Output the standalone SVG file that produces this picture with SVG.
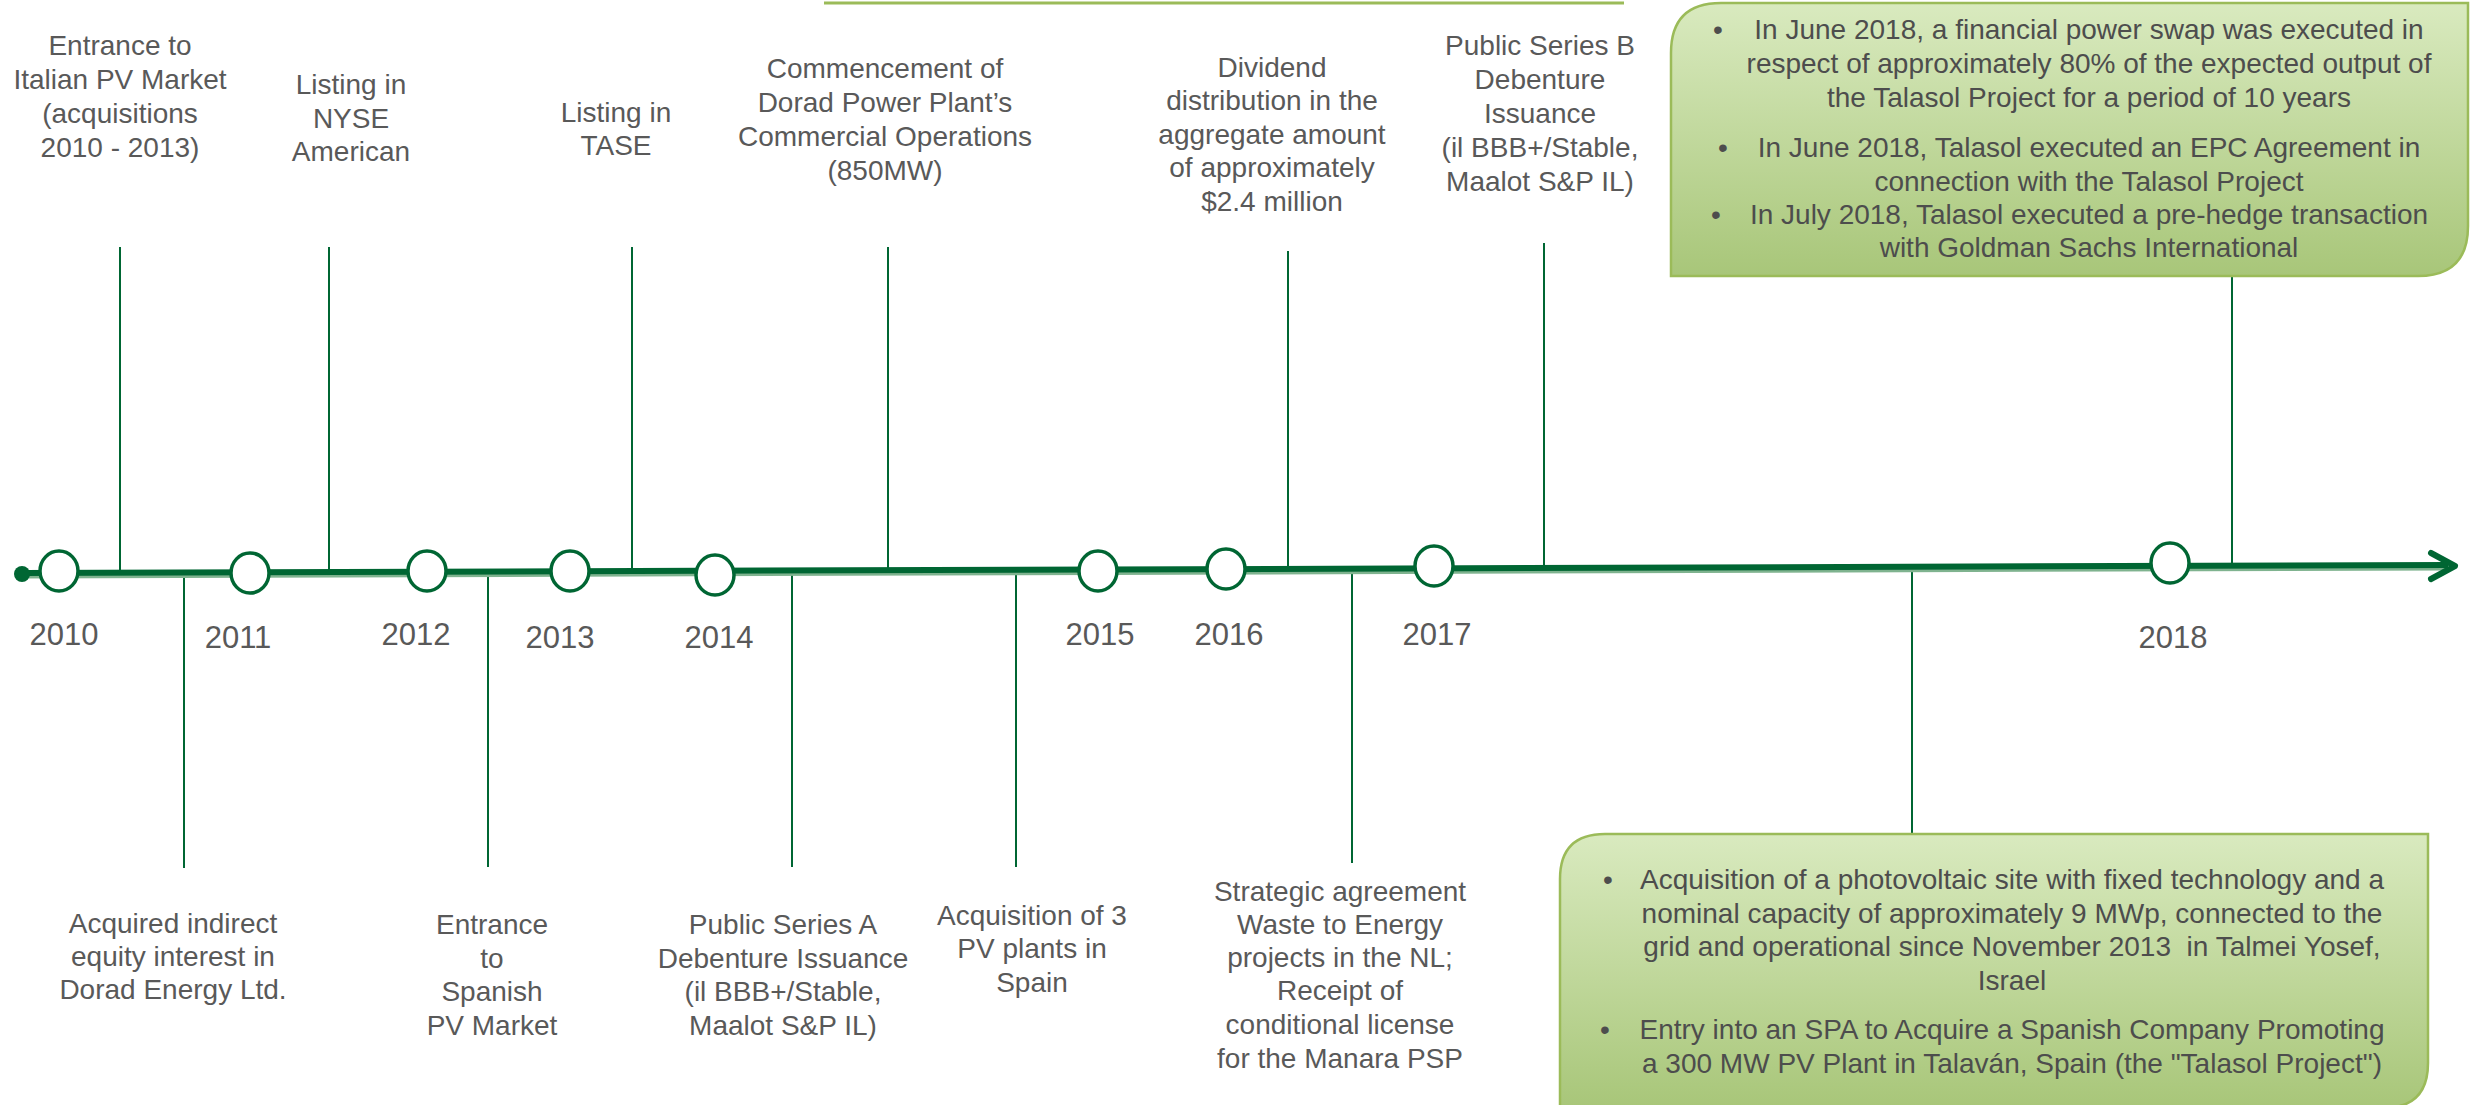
<svg xmlns="http://www.w3.org/2000/svg" width="2470" height="1105" viewBox="0 0 2470 1105">
<defs>
<linearGradient id="boxGrad" x1="0" y1="0" x2="0" y2="1">
<stop offset="0" stop-color="#d9eabf"/>
<stop offset="1" stop-color="#a8c679"/>
</linearGradient>
<style>
text{font-family:"Liberation Sans",Arial,sans-serif;fill:#595959;}
.lbl{font-size:28px;text-anchor:middle;}
.yr{font-size:31px;text-anchor:middle;}
.box{font-size:28px;text-anchor:middle;fill:#4d4d4d;}
.bul{font-size:28px;text-anchor:middle;fill:#4d4d4d;}
.conn{stroke:#006633;stroke-width:2;fill:none;}
.yc{fill:#ffffff;stroke:#006633;stroke-width:3.5;}
.panel{fill:url(#boxGrad);stroke:#9bbb59;stroke-width:2.5;}
</style>
</defs>
<rect width="2470" height="1105" fill="#ffffff"/>
<line x1="824" y1="3" x2="1624" y2="3" stroke="#9bbb59" stroke-width="3"/>

<g id="connectors">
<line class="conn" x1="120" y1="247" x2="120" y2="570"/>
<line class="conn" x1="329" y1="247" x2="329" y2="570"/>
<line class="conn" x1="632" y1="247" x2="632" y2="570"/>
<line class="conn" x1="888" y1="247" x2="888" y2="569"/>
<line class="conn" x1="1288" y1="251" x2="1288" y2="573"/>
<line class="conn" x1="1544" y1="243" x2="1544" y2="567"/>
<line class="conn" x1="2232" y1="276" x2="2232" y2="564"/>
<line class="conn" x1="184" y1="575" x2="184" y2="868"/>
<line class="conn" x1="488" y1="574" x2="488" y2="867"/>
<line class="conn" x1="792" y1="574" x2="792" y2="867"/>
<line class="conn" x1="1016" y1="572" x2="1016" y2="867"/>
<line class="conn" x1="1352" y1="570" x2="1352" y2="863"/>
<line class="conn" x1="1912" y1="566" x2="1912" y2="834"/>
</g>

<g id="timeline">
<line x1="22" y1="575.5" x2="2448" y2="567.5" stroke="#7fb38f" stroke-width="6"/>
<line x1="22" y1="573" x2="2448" y2="565" stroke="#006633" stroke-width="6"/>
<circle cx="22" cy="574" r="8" fill="#006633"/>
<polyline points="2431,553 2455,566 2431,579" fill="none" stroke="#006633" stroke-width="6" stroke-linecap="round" stroke-linejoin="round"/>
</g>

<g id="year-2010"><ellipse class="yc" cx="59" cy="571" rx="19" ry="20"/><text class="yr" x="64" y="645">2010</text></g>
<g id="year-2011"><ellipse class="yc" cx="250" cy="573" rx="19" ry="20"/><text class="yr" x="238" y="648">2011</text></g>
<g id="year-2012"><ellipse class="yc" cx="427" cy="571" rx="19" ry="20"/><text class="yr" x="416" y="645">2012</text></g>
<g id="year-2013"><ellipse class="yc" cx="570" cy="571" rx="19" ry="20"/><text class="yr" x="560" y="648">2013</text></g>
<g id="year-2014"><ellipse class="yc" cx="715" cy="575" rx="19" ry="20"/><text class="yr" x="719" y="648">2014</text></g>
<g id="year-2015"><ellipse class="yc" cx="1098" cy="571" rx="19" ry="20"/><text class="yr" x="1100" y="645">2015</text></g>
<g id="year-2016"><ellipse class="yc" cx="1226" cy="569" rx="19" ry="20"/><text class="yr" x="1229" y="645">2016</text></g>
<g id="year-2017"><ellipse class="yc" cx="1434" cy="566" rx="19" ry="20"/><text class="yr" x="1437" y="645">2017</text></g>
<g id="year-2018"><ellipse class="yc" cx="2170" cy="563" rx="19" ry="20"/><text class="yr" x="2173" y="648">2018</text></g>

<g id="ev-italian">
<text class="lbl" x="120" y="55">Entrance to</text>
<text class="lbl" x="120" y="89">Italian PV Market</text>
<text class="lbl" x="120" y="123">(acquisitions</text>
<text class="lbl" x="120" y="157">2010 - 2013)</text>
</g>
<g id="ev-nyse">
<text class="lbl" x="351" y="94">Listing in</text>
<text class="lbl" x="351" y="128">NYSE</text>
<text class="lbl" x="351" y="161">American</text>
</g>
<g id="ev-tase">
<text class="lbl" x="616" y="122">Listing in</text>
<text class="lbl" x="616" y="155">TASE</text>
</g>
<g id="ev-dorad-ops">
<text class="lbl" x="885" y="78">Commencement of</text>
<text class="lbl" x="885" y="112">Dorad Power Plant’s</text>
<text class="lbl" x="885" y="146">Commercial Operations</text>
<text class="lbl" x="885" y="180">(850MW)</text>
</g>
<g id="ev-dividend">
<text class="lbl" x="1272" y="77">Dividend</text>
<text class="lbl" x="1272" y="110">distribution in the</text>
<text class="lbl" x="1272" y="144">aggregate amount</text>
<text class="lbl" x="1272" y="177">of approximately</text>
<text class="lbl" x="1272" y="211">$2.4 million</text>
</g>
<g id="ev-series-b">
<text class="lbl" x="1540" y="55">Public Series B</text>
<text class="lbl" x="1540" y="89">Debenture</text>
<text class="lbl" x="1540" y="123">Issuance</text>
<text class="lbl" x="1540" y="157">(il BBB+/Stable,</text>
<text class="lbl" x="1540" y="191">Maalot S&amp;P IL)</text>
</g>

<g id="ev-dorad-equity">
<text class="lbl" x="173" y="933">Acquired indirect</text>
<text class="lbl" x="173" y="966">equity interest in</text>
<text class="lbl" x="173" y="999">Dorad Energy Ltd.</text>
</g>
<g id="ev-spanish">
<text class="lbl" x="492" y="934">Entrance</text>
<text class="lbl" x="492" y="968">to</text>
<text class="lbl" x="492" y="1001">Spanish</text>
<text class="lbl" x="492" y="1035">PV Market</text>
</g>
<g id="ev-series-a">
<text class="lbl" x="783" y="934">Public Series A</text>
<text class="lbl" x="783" y="968">Debenture Issuance</text>
<text class="lbl" x="783" y="1001">(il BBB+/Stable,</text>
<text class="lbl" x="783" y="1035">Maalot S&amp;P IL)</text>
</g>
<g id="ev-3pv">
<text class="lbl" x="1032" y="925">Acquisition of 3</text>
<text class="lbl" x="1032" y="958">PV plants in</text>
<text class="lbl" x="1032" y="992">Spain</text>
</g>
<g id="ev-strategic">
<text class="lbl" x="1340" y="901">Strategic agreement</text>
<text class="lbl" x="1340" y="934">Waste to Energy</text>
<text class="lbl" x="1340" y="967">projects in the NL;</text>
<text class="lbl" x="1340" y="1000">Receipt of</text>
<text class="lbl" x="1340" y="1034">conditional license</text>
<text class="lbl" x="1340" y="1068">for the Manara PSP</text>
</g>

<g id="box-2018-top">
<path class="panel" d="M1721,3 H2468 V226 Q2468,276 2418,276 H1671 V53 Q1671,3 1721,3 Z"/>
<text class="bul" x="1718" y="39">•</text>
<text class="box" x="2089" y="39">In June 2018, a financial power swap was executed in</text>
<text class="box" x="2089" y="73">respect of approximately 80% of the expected output of</text>
<text class="box" x="2089" y="107">the Talasol Project for a period of 10 years</text>
<text class="bul" x="1723" y="157">•</text>
<text class="box" x="2089" y="157">In June 2018, Talasol executed an EPC Agreement in</text>
<text class="box" x="2089" y="191">connection with the Talasol Project</text>
<text class="bul" x="1716" y="224">•</text>
<text class="box" x="2089" y="224">In July 2018, Talasol executed a pre-hedge transaction</text>
<text class="box" x="2089" y="257">with Goldman Sachs International</text>
</g>

<g id="box-2018-bottom">
<path class="panel" d="M1605,834 H2428 V1063 Q2428,1108 2383,1108 H1560 V879 Q1560,834 1605,834 Z"/>
<text class="bul" x="1608" y="889">•</text>
<text class="box" x="2012" y="889">Acquisition of a photovoltaic site with fixed technology and a</text>
<text class="box" x="2012" y="923">nominal capacity of approximately 9 MWp, connected to the</text>
<text class="box" x="2012" y="956" xml:space="preserve">grid and operational since November 2013  in Talmei Yosef,</text>
<text class="box" x="2012" y="990">Israel</text>
<text class="bul" x="1605" y="1039">•</text>
<text class="box" x="2012" y="1039">Entry into an SPA to Acquire a Spanish Company Promoting</text>
<text class="box" x="2012" y="1073">a 300 MW PV Plant in Talaván, Spain (the "Talasol Project")</text>
</g>
</svg>
